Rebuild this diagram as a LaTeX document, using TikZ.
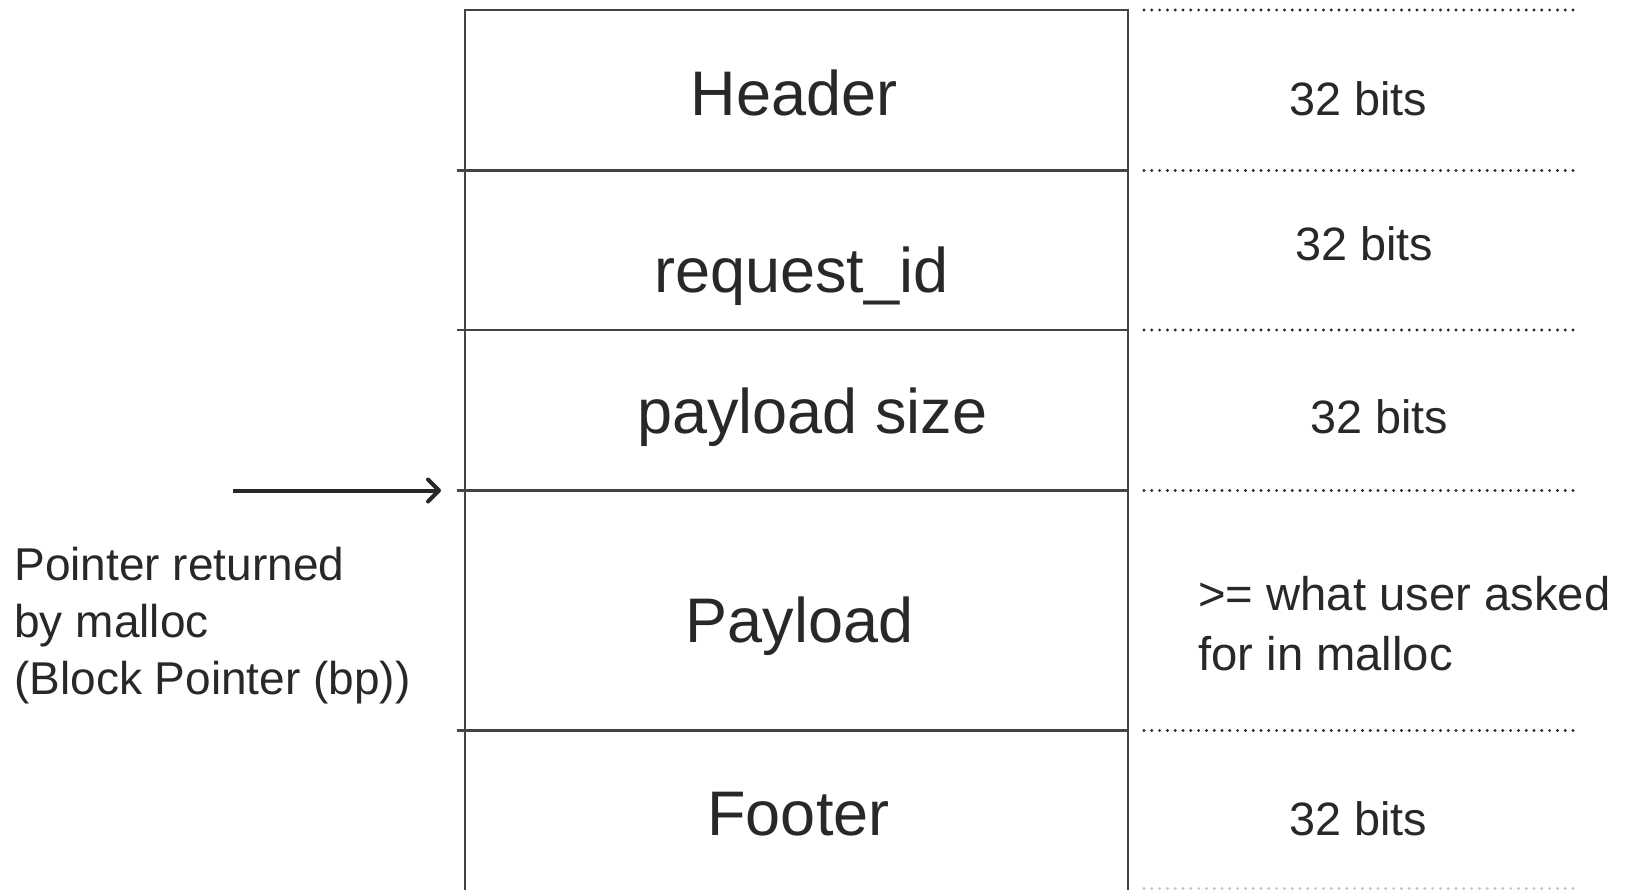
\documentclass[tikz,border=0pt]{standalone}
\usepackage{fontspec}
\setmainfont{Liberation Sans}
\usetikzlibrary{arrows.meta}
\definecolor{ink}{HTML}{282828}
\definecolor{rule}{HTML}{444444}
\tikzset{
  boxline/.style={draw=rule, line width=1.1pt},
  dotline/.style={draw=ink, line width=1.6pt, line cap=round, dash pattern=on 0pt off 3.9pt},
  bigtext/.style={text=ink, inner sep=0pt, anchor=base, font=\fontsize{31.5pt}{36pt}\selectfont},
  smalltext/.style={text=ink, inner sep=0pt, anchor=base, font=\fontsize{23.4pt}{28pt}\selectfont},
  pointer/.style={draw=ink, line width=2pt, -{Straight Barb[length=5.5pt,width=11pt,round]}}
}
\begin{document}
\begin{tikzpicture}[x=0.5pt,y=-0.5pt]
\useasboundingbox (0,0) rectangle (1632,889);
\clip (0,0) rectangle (1632,889);
% box outline
\draw[boxline] (465,900) -- (465,10) -- (1128,10) -- (1128,900);
% dividers
\foreach \yy in {170.5,330,490.5,730.5}{
  \draw[boxline] (457,\yy) -- (1128,\yy);
}
% dotted guides
\foreach \yy in {10,170.5,330,490.5,730.5}{
  \draw[dotline] (1144,\yy) -- (1580,\yy);
}
\draw[dotline, draw=gray!45] (1144,888.5) -- (1580,888.5);
% field labels
\node[bigtext] (header)  at (794,115) {Header};
\node[bigtext] (reqid)   at (801.5,292) {request\_id};
\node[bigtext] (psize)   at (812.5,433) {payload size};
\node[bigtext] (payload) at (799.5,642) {Payload};
\node[bigtext] (footer)  at (798.5,835) {Footer};
% size labels
\node[smalltext] (bits1) at (1358,115) {32 bits};
\node[smalltext] (bits2) at (1364,260) {32 bits};
\node[smalltext] (bits3) at (1379,433) {32 bits};
\node[smalltext] (bits4) at (1358,835) {32 bits};
\node[smalltext, anchor=base west, align=left, font=\fontsize{23.6pt}{30pt}\selectfont] (userasked) at (1198,670) {>= what user asked\\for in malloc};
% pointer
\node[smalltext, anchor=base west, align=left, font=\fontsize{23pt}{28.5pt}\selectfont] (ptrtext) at (14,694) {Pointer returned\\by malloc\\(Block Pointer (bp))};
\coordinate (arrowtail) at (233,490.5);
\coordinate (bp) at (441,490.5);
\draw[pointer] (arrowtail) -- (bp);
\end{tikzpicture}
\end{document}
